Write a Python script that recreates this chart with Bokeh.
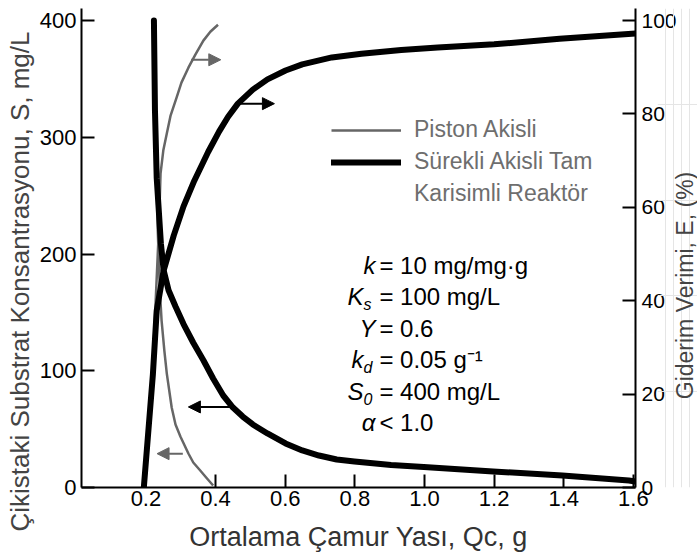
import math
from bokeh.plotting import figure
from bokeh.layouts import row
from bokeh.models import (Range1d, LinearAxis, FixedTicker, Arrow, NormalHead,
                          Legend, LegendItem, Title, Label)
from bokeh.core.properties import value
from bokeh.embed import file_html
from bokeh.resources import INLINE

# ---------------- data ----------------
# Sürekli akisli tam karisimli reaktör (CSTR): effluent substrate S (mg/L)
theta_cstr_s = [0.223, 0.226, 0.231, 0.243, 0.251, 0.265, 0.285, 0.308, 0.336, 0.365,
                0.393, 0.422, 0.450, 0.478, 0.507, 0.549, 0.601, 0.649, 0.697, 0.748,
                0.799, 0.904, 0.998, 1.197, 1.396, 1.587, 1.606]
s_cstr = [400, 323, 265, 209, 186, 169, 155, 140, 124, 109,
          93.4, 78.8, 68.5, 60.8, 54.0, 46.3, 37.7, 31.7, 27.4, 24.0,
          22.3, 19.3, 17.6, 13.7, 10.3, 6.0, 5.1]
# CSTR removal efficiency E (%)
theta_cstr_e = [0.194, 0.220, 0.231, 0.251, 0.260, 0.280, 0.308, 0.339, 0.379, 0.410,
                0.436, 0.464, 0.507, 0.549, 0.601, 0.649, 0.734, 0.819, 0.933, 1.038,
                1.200, 1.388, 1.606]
e_cstr = [0, 24.2, 37.9, 46.5, 48.8, 54.0, 60.2, 65.7, 71.9, 76.2,
          79.4, 82.2, 85.2, 87.4, 89.3, 90.6, 92.1, 92.9, 93.7, 94.2,
          94.9, 96.1, 97.2]
# Piston akisli (plug flow): S (mg/L)
theta_pf_s = [0.223, 0.228, 0.234, 0.240, 0.245, 0.253, 0.260, 0.274, 0.285, 0.299,
              0.322, 0.336, 0.356, 0.373, 0.393]
s_pf = [400, 306, 220, 169, 143, 117, 97.6, 68.5, 54.0, 43.7,
        29.1, 21.4, 14.6, 8.6, 1.7]
# Plug flow: E (%)
theta_pf_e = [0.197, 0.211, 0.223, 0.237, 0.242, 0.250, 0.260, 0.271, 0.288, 0.302,
              0.322, 0.342, 0.365, 0.385, 0.407]
e_pf = [0, 14.3, 31.5, 55, 67.2, 72.2, 75.8, 79.7, 83.5, 86.7,
        89.9, 92.7, 95.7, 97.6, 99.1]

# arrows
arrow_x_start = [0.330, 0.462, 0.445, 0.306]
arrow_x_end = [0.415, 0.569, 0.322, 0.232]
arrow_y = [91.6, 82.2, 69, 29]
arrow_axis = ["E", "E", "S", "S"]
arrow_series = ["pf", "cstr", "cstr", "pf"]

x_ticks = [0.2, 0.4, 0.6, 0.8, 1.0, 1.2, 1.4, 1.6]
x_tick_labels = ["0.2", "0.4", "0.6", "0.8", "1.0", "1.2", "1.4", "1.6"]
s_ticks = [0, 100, 200, 300, 400]
e_ticks = [0, 20, 40, 60, 80, 100]

param_symbols = ["k", "K", "Y", "k", "S", "α"]
param_subscripts = ["", "s", "", "d", "0", ""]
param_values = ["= 10 mg/mg·g", "= 100 mg/L", "= 0.6", "= 0.05 g⁻¹", "= 400  mg/L", "< 1.0"]

legend_labels = ["Piston Akisli", "Sürekli Akisli Tam", "Karisimli Reaktör"]

x_title = "Ortalama Çamur Yası, Qc, g"
left_title = "Çikistaki Substrat Konsantrasyonu, S, mg/L"
right_title = "Giderim Verimi, E, (%)"

# ---------------- main figure ----------------
FONT = "Liberation Sans"
S_TOP = 410.3
W_MAIN, H = 679, 555
FR_TOP, FR_BOTTOM = 8, 487
p = figure(width=W_MAIN, height=H, x_range=Range1d(0.015, 1.606), y_range=Range1d(0, S_TOP),
           output_backend="svg", toolbar_location=None,
           min_border_left=77, min_border_right=W_MAIN - 77 - 560, min_border_top=FR_TOP,
           min_border_bottom=H - FR_BOTTOM)
p.outline_line_color = None
p.grid.visible = False
p.background_fill_color = "white"
p.border_fill_color = "white"

p.extra_y_ranges = {"E": Range1d(0, S_TOP / 4)}
raxis = LinearAxis(y_range_name="E")
p.add_layout(raxis, "right")

p.xaxis.ticker = FixedTicker(ticks=x_ticks)
p.xaxis.major_label_overrides = {t: l for t, l in zip(x_ticks, x_tick_labels)}
p.yaxis.ticker = FixedTicker(ticks=s_ticks)
raxis.ticker = FixedTicker(ticks=e_ticks)

for ax, standoff, fs in [(p.xaxis[0], 3, "22px"), (p.yaxis[0], 5, "22px"), (raxis, 6, "21px")]:
    ax.axis_line_width = 2
    ax.axis_line_color = "black"
    ax.major_tick_line_width = 2
    ax.major_tick_line_color = "black"
    ax.major_tick_in = 13
    ax.major_tick_out = 0
    ax.minor_tick_line_color = None
    ax.major_label_text_font = FONT
    ax.major_label_text_font_size = fs
    ax.major_label_text_color = "black"
    ax.major_label_standoff = standoff

# x-axis title
p.xaxis.axis_label = x_title
p.xaxis.axis_label_text_font = FONT
p.xaxis.axis_label_text_font_size = "27px"
p.xaxis.axis_label_text_font_style = "normal"
p.xaxis.axis_label_text_color = "#333333"
p.xaxis.axis_label_standoff = 13

# left axis title as a side title, centred like the reference
p.add_layout(Title(text=left_title, align="left", offset=-44, standoff=4,
                   text_font=FONT, text_font_size="26px", text_font_style="normal",
                   text_color="#444444"), "left")

PF_COLOR = "#666666"
pf_s_r = p.line(theta_pf_s, s_pf, line_width=2.5, line_color=PF_COLOR, line_join="round")
p.line(theta_pf_e, e_pf, y_range_name="E", line_width=2.5, line_color=PF_COLOR, line_join="round")
cstr_s_r = p.line(theta_cstr_s, s_cstr, line_width=6, line_color="black", line_join="round",
                  line_cap="round")
p.line(theta_cstr_e, e_cstr, y_range_name="E", line_width=6, line_color="black", line_join="round")

for xs, xe, yy, axn, ser in zip(arrow_x_start, arrow_x_end, arrow_y, arrow_axis, arrow_series):
    col = PF_COLOR if ser == "pf" else "black"
    kw = {"y_range_name": "E"} if axn == "E" else {}
    p.add_layout(Arrow(end=NormalHead(size=12, fill_color=col, line_color=col),
                       x_start=xs, y_start=yy, x_end=xe, y_end=yy,
                       line_color=col, line_width=2, **kw))

# legend (second entry's label continues on a third, glyph-less line)
legend = Legend(items=[LegendItem(label=legend_labels[0], renderers=[pf_s_r]),
                       LegendItem(label=legend_labels[1], renderers=[cstr_s_r]),
                       LegendItem(label=legend_labels[2], renderers=[])],
                location=(250, 280), padding=0, margin=0, spacing=5,
                glyph_width=70, glyph_height=24, label_standoff=13,
                label_text_font=FONT, label_text_font_size="23px",
                label_text_color="#6e6e6e", label_height=26,
                background_fill_alpha=0, border_line_alpha=0)
p.add_layout(legend)

# parameter block (window px -> data: x=(px-71.6)/352, S=(487-py)/1.1675)
line_y = [(487 - (265 + 31.4 * i)) / 1.1675 for i in range(len(param_symbols))]
x_op = (378 - 71.6) / 352
x_sym_plain = (374 - 71.6) / 352
x_sym_sub = (362 - 71.6) / 352
sym_x = [x_sym_sub if sub else x_sym_plain for sub in param_subscripts]
p.text(x=sym_x, y=line_y, text=param_symbols, text_align="right", text_baseline="middle",
       text_font=value(FONT), text_font_size="24px", text_font_style="italic", text_color="black")
p.text(x=[x_sym_sub] * len(param_subscripts), y=line_y, text=param_subscripts, text_align="left",
       text_baseline="middle", y_offset=8, text_font=value(FONT), text_font_size="16px",
       text_font_style="italic", text_color="black")
p.text(x=[x_op] * len(param_values), y=line_y, text=param_values, text_align="left",
       text_baseline="middle", text_font=value(FONT), text_font_size="24px", text_color="black")

# ---------------- transparent strip carrying the right axis title ----------------
OVERLAP = 22
W_SIDE = 697 - W_MAIN + OVERLAP
p2 = figure(width=W_SIDE, height=H, x_range=Range1d(0, 1), y_range=Range1d(0, 1),
            x_axis_location=None, y_axis_location=None, toolbar_location=None,
            output_backend="svg", min_border_left=0, min_border_right=0,
            min_border_top=FR_TOP, min_border_bottom=H - FR_BOTTOM)
p2.outline_line_color = None
p2.background_fill_color = None
p2.border_fill_color = None
try:
    p2.margin = (0, 0, 0, -OVERLAP)
except Exception:
    p2.styles = {"margin-left": f"-{OVERLAP}px"}
title_cx = 684 - (W_MAIN - OVERLAP)          # px inside the strip
title_cy = 285 - FR_TOP                       # px below frame top
p2.add_layout(Label(x=title_cx / W_SIDE, y=1 - title_cy / (FR_BOTTOM - FR_TOP),
                    text=right_title, angle=math.pi / 2,
                    text_align="center", text_baseline="middle",
                    text_font=FONT, text_font_size="23px", text_color="#444444"))

layout = row(p, p2, spacing=0)
open("out.html", "w").write(file_html(layout, INLINE))
